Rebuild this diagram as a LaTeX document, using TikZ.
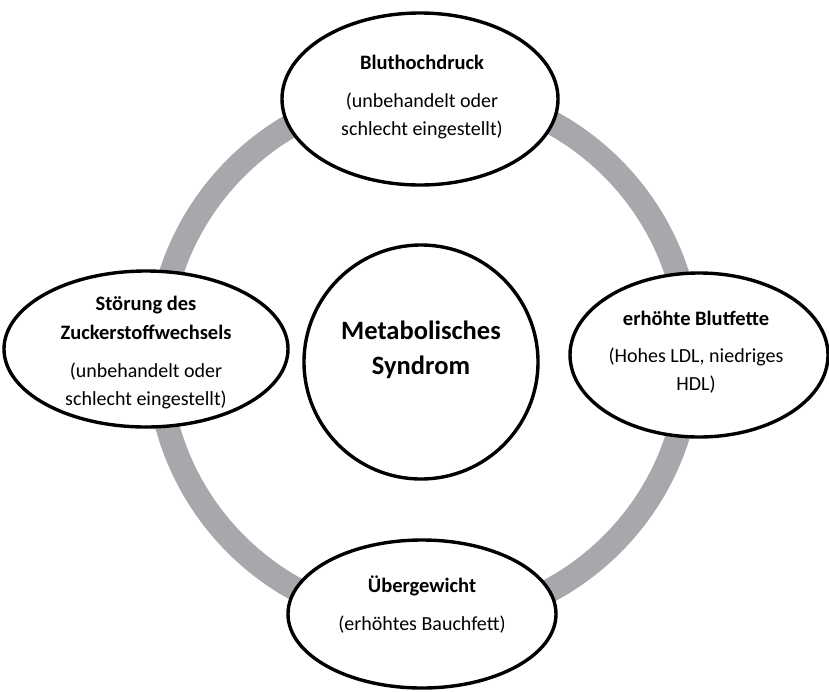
\documentclass[tikz,border=0pt]{standalone}
\usepackage{fontspec}
\setmainfont{Carlito}
\usetikzlibrary{shapes.geometric}
\definecolor{ringgray}{HTML}{A8A7AB}
\tikzset{
  blob/.style={ellipse, draw=black, line width=3.4pt, fill=white, inner sep=0pt},
  ttl/.style={anchor=mid, inner sep=0pt, font=\fontsize{20.5}{24}\selectfont\bfseries},
  sub/.style={anchor=mid, inner sep=0pt, font=\fontsize{20}{24}\selectfont},
  big/.style={anchor=mid, inner sep=0pt, font=\fontsize{26.5}{30}\selectfont\bfseries}
}
\begin{document}
\begin{tikzpicture}[x=1pt,y=-1pt]
\useasboundingbox (0,0) rectangle (829,691);
% ring
\node[circle, draw=ringgray, line width=24pt, minimum size=532pt, inner sep=0pt] (ring) at (424,356) {};
% ellipses
\node[blob, minimum width=276pt, minimum height=172pt] (top) at (420,99) {};
\node[blob, minimum width=284pt, minimum height=156pt] (left) at (146,349) {};
\node[blob, minimum width=258pt, minimum height=164pt] (right) at (699,355) {};
\node[blob, minimum width=268pt, minimum height=148pt] (bottom) at (422,614) {};
\node[blob, circle, minimum size=234pt] (center) at (421,362) {};
% texts
\node[ttl] (topA) at (422,67) {Bluthochdruck};
\node[sub] (topB) at (422,105) {(unbehandelt oder};
\node[sub] (topC) at (422,133) {schlecht eingestellt)};
\node[ttl] (leftA) at (146,308) {Störung des};
\node[ttl] (leftB) at (146,337) {Zuckerstoffwechsels};
\node[sub] (leftC) at (146,375) {(unbehandelt oder};
\node[sub] (leftD) at (146,403) {schlecht eingestellt)};
\node[ttl] (rightA) at (696,323) {erhöhte Blutfette};
\node[sub] (rightB) at (696,360) {(Hohes LDL, niedriges};
\node[sub] (rightC) at (696,388) {HDL)};
\node[ttl] (botA) at (422,590) {Übergewicht};
\node[sub] (botB) at (422,628) {(erhöhtes Bauchfett)};
\node[big] (cenA) at (421,337) {Metabolisches};
\node[big] (cenB) at (421,372) {Syndrom};
\end{tikzpicture}
\end{document}
